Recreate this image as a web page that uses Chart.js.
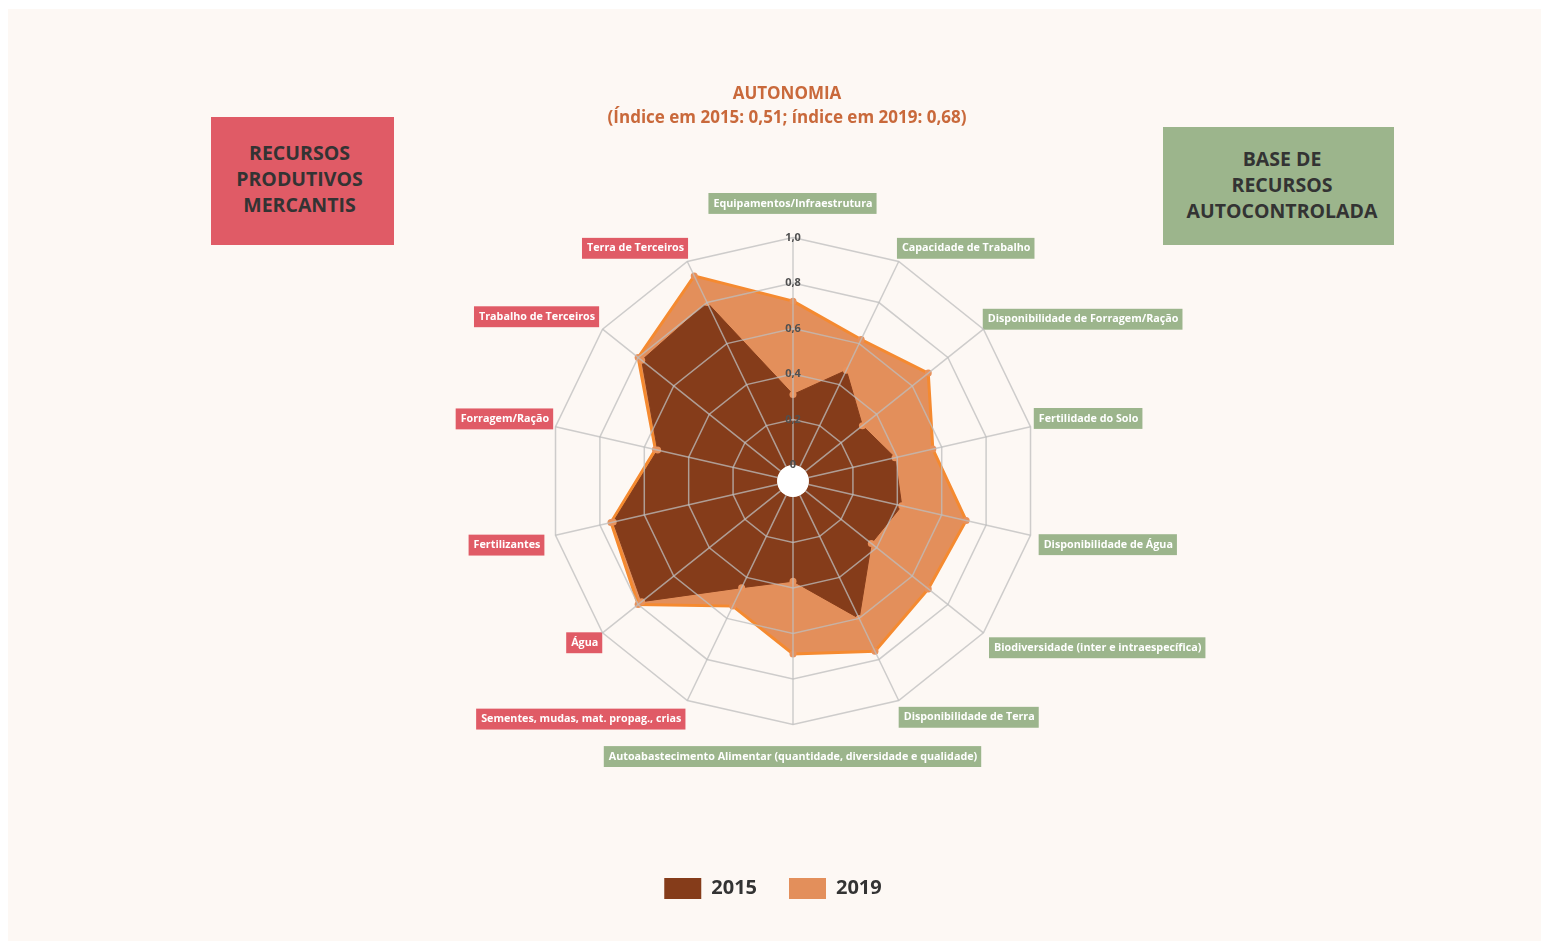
<!DOCTYPE html>
<html lang="pt">
<head>
<meta charset="utf-8">
<title>Autonomia</title>
<script src="https://cdn.jsdelivr.net/npm/chart.js@4.4.1/dist/chart.umd.min.js"></script>
<style>
  html, body { margin: 0; padding: 0; background: #ffffff; }
  body { width: 1542px; height: 943px; position: relative; overflow: hidden; font-family: 'Open Sans', sans-serif; }
  .panel { position: absolute; left: 8px; top: 9px; width: 1533px; height: 932px; background: #fdf8f4; }
  .wrap { position: absolute; left: 0; top: 0; width: 1542px; height: 943px; }
  .tag {
    position: absolute; display: flex; align-items: center; justify-content: center; box-sizing: border-box;
    text-align: center; color: #333; font-weight: bold; font-size: 19.5px; line-height: 26px;
  }
  .tag.red { left: 211px; top: 117px; width: 183px; height: 128px; padding: 0 6px 4px 0; background: #e05b66; }
  .tag.green { left: 1163px; top: 127px; width: 231px; height: 118px; padding: 0 0 3px 7px; background: #9cb58c; }
</style>
</head>
<body>
<div class="panel"></div>
<div class="wrap"><canvas id="radar"></canvas></div>
<div class="tag red">RECURSOS<br>PRODUTIVOS<br>MERCANTIS</div>
<div class="tag green">BASE DE<br>RECURSOS<br>AUTOCONTROLADA</div>

<script>
// ---- data ----
const categories = [
  "Equipamentos/Infraestrutura",
  "Capacidade de Trabalho",
  "Disponibilidade de Forragem/Ração",
  "Fertilidade do Solo",
  "Disponibilidade de Água",
  "Biodiversidade (inter e intraespecífica)",
  "Disponibilidade de Terra",
  "Autoabastecimento Alimentar (quantidade, diversidade e qualidade)",
  "Sementes, mudas, mat. propag., crias",
  "Água",
  "Fertilizantes",
  "Forragem/Ração",
  "Trabalho de Terceiros",
  "Terra de Terceiros"
];
// 'auto' = base de recursos autocontrolada, 'merc' = recursos produtivos mercantis
const groups = ["auto","auto","auto","auto","auto","auto","auto","auto","merc","merc","merc","merc","merc","merc"];
const values2015 = [0.31, 0.47, 0.32, 0.39, 0.42, 0.37, 0.60, 0.37, 0.45, 0.78, 0.74, 0.54, 0.78, 0.80];
const values2019 = [0.72, 0.62, 0.69, 0.56, 0.71, 0.69, 0.76, 0.69, 0.54, 0.80, 0.75, 0.55, 0.80, 0.93];
const tickValues = [0, 0.2, 0.4, 0.6, 0.8, 1.0];
const titleLines = ["AUTONOMIA", "(Índice em 2015: 0,51; índice em 2019: 0,68)"];

// ---- look ----
const FONT = "'Open Sans', sans-serif";
const gridColor = 'rgba(190,190,190,0.75)';
// distance of each label box from the outer ring
const labelPad = [22, 2, 0, 3, 8, 8, 6, 20, 8, 0, 10, 1, 4, 2];

Chart.defaults.font.family = FONT;

// white hole in the middle, drawn over the fills but under grid and ticks
const centerHole = {
  id: 'centerHole',
  afterDatasetsDraw(chart) {
    const r = chart.scales.r;
    const ctx = chart.ctx;
    ctx.save();
    ctx.beginPath();
    ctx.arc(r.xCenter, r.yCenter, r.getDistanceFromCenterForValue(0), 0, Math.PI * 2);
    ctx.fillStyle = '#ffffff';
    ctx.fill();
    ctx.restore();
  }
};

// title and legend sit a little left of the radar centre
const nudgeBoxes = {
  id: 'nudgeBoxes',
  afterLayout(chart) {
    const shift = (box, dx) => { box.left += dx; box.right += dx; };
    shift(chart.legend, -20);
    shift(chart.titleBlock, -6);
  }
};

new Chart(document.getElementById('radar'), {
  type: 'radar',
  data: {
    labels: categories,
    datasets: [
      {
        label: '2015',
        data: values2015,
        backgroundColor: '#853c1a',
        borderColor: '#853c1a',
        borderWidth: 1,
        fill: true,
        pointRadius: 3.5,
        pointBackgroundColor: '#e8915b',
        pointBorderWidth: 0
      },
      {
        label: '2019',
        data: values2019,
        backgroundColor: '#e38f5b',
        borderColor: '#f58a30',
        borderWidth: 3,
        fill: true,
        pointRadius: 3.5,
        pointBackgroundColor: '#e8915b',
        pointBorderWidth: 0
      }
    ]
  },
  options: {
    responsive: true,
    maintainAspectRatio: false,
    animation: false,
    layout: { padding: { left: 44, right: 0, top: 0, bottom: 34 } },
    plugins: {
      title: {
        display: true,
        text: titleLines,
        color: '#c9693b',
        font: { size: 17, weight: 'bold', lineHeight: 1.4 },
        padding: { top: 82, bottom: 66.4 }
      },
      legend: {
        position: 'bottom',
        title: { display: true, text: '', padding: { top: 0, bottom: 66.6 } },
        labels: {
          boxWidth: 37,
          boxHeight: 21,
          padding: 32,
          color: '#333',
          font: { size: 20, weight: 'bold' },
          generateLabels(chart) {
            return Chart.defaults.plugins.legend.labels.generateLabels(chart)
              .map(l => ({ ...l, lineWidth: 0 }));
          }
        }
      },
      tooltip: { enabled: false }
    },
    scales: {
      r: {
        min: -0.07,
        max: 1,
        afterBuildTicks(scale) {
          scale.ticks = tickValues.map(v => ({ value: v }));
        },
        grid: {
          z: 1,
          lineWidth: 1.5,
          color: ctx => ctx.tick && ctx.tick.value === 0 ? 'transparent' : gridColor
        },
        angleLines: {
          color: gridColor,
          lineWidth: 1.5,
          borderDash: ctx => [0, ctx.chart.scales.r.getDistanceFromCenterForValue(0), 1000]
        },
        ticks: {
          z: 2,
          showLabelBackdrop: false,
          backdropPadding: 0,
          color: '#505050',
          font: { size: 11, weight: 'bold' },
          callback: v => v === 0 ? '0' : v.toFixed(1).replace('.', ',')
        },
        pointLabels: {
          color: '#ffffff',
          font: { size: 10.75, weight: 'bold' },
          backdropColor: ctx => groups[ctx.index] === 'auto' ? '#9cb58c' : '#e05b66',
          backdropPadding: { left: 5, right: 4, top: 4, bottom: 4 },
          padding: ctx => labelPad[ctx.index]
        }
      }
    }
  },
  plugins: [centerHole, nudgeBoxes]
});
</script>
</body>
</html>
